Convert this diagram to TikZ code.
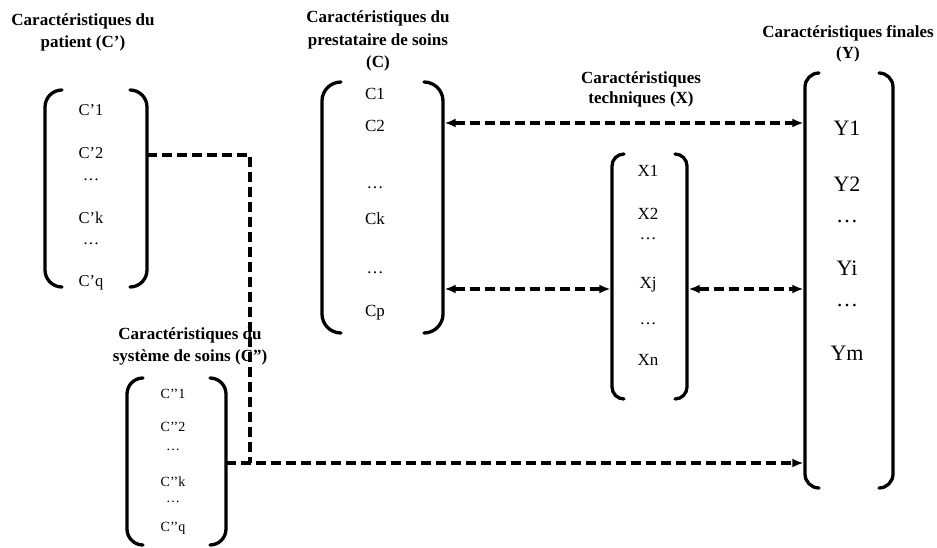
\documentclass[tikz,border=0pt]{standalone}
\usepackage{fontspec}
\setmainfont{Liberation Serif}
\usetikzlibrary{arrows.meta}

% Two facing round brackets around the box node #1, with tips of width #2
\newcommand\drawbrackets[2]{%
  \draw[brk,rounded corners=#2] ([xshift=#2]#1.north west) -- (#1.north west)
      -- (#1.south west) -- ([xshift=#2]#1.south west);
  \draw[brk,rounded corners=#2] ([xshift=-#2]#1.north east) -- (#1.north east)
      -- (#1.south east) -- ([xshift=-#2]#1.south east);}

\begin{document}
\begin{tikzpicture}[x=1pt,y=-1pt,
  box/.style={inner sep=0pt,outer sep=0pt,draw=none},
  brk/.style={line width=3.3pt,line cap=round},
  title/.style={anchor=base,inner sep=0pt,font=\fontsize{17}{22}\selectfont\bfseries},
  itm/.style={inner sep=0pt,text height=0.66em,text depth=0pt},
  dotitm/.style={inner sep=0pt,text height=0.2em,text depth=0pt},
  dl/.style={line width=3.2pt,dash pattern=on 10pt off 5pt},
  tip/.style={-{Latex[length=11pt,width=9pt]}},
  tips/.style={{Latex[length=11pt,width=9pt]}-{Latex[length=11pt,width=9pt]}}]

\useasboundingbox (0,0) rectangle (937,548);

% bracketed groups
\node[box,minimum width=102pt,minimum height=197pt] (P) at (96,188.5) {};
\node[box,minimum width=99pt,minimum height=167pt]  (S) at (176.5,461.5) {};
\node[box,minimum width=121pt,minimum height=251pt] (C) at (382.5,207.5) {};
\node[box,minimum width=75pt,minimum height=245pt]  (X) at (649.5,276.5) {};
\node[box,minimum width=88pt,minimum height=415pt]  (Y) at (849,280.5) {};

\drawbrackets{P}{17pt}
\drawbrackets{S}{16pt}
\drawbrackets{C}{19pt}
\drawbrackets{X}{12pt}
\drawbrackets{Y}{14pt}

% titles
\node[title] (tP1) at (83,26) {Caractéristiques du};
\node[title] (tP2) at (83,48) {patient (C’)};
\node[title] (tC1) at (378,23) {Caractéristiques du};
\node[title] (tC2) at (378,46) {prestataire de soins};
\node[title] (tC3) at (378,68) {(C)};
\node[title] (tX1) at (641,84) {Caractéristiques};
\node[title] (tX2) at (641,104) {techniques (X)};
\node[title] (tY1) at (848,38) {Caractéristiques finales};
\node[title] (tY2) at (848,59) {(Y)};
\node[title] (tS1) at (190,339) {Caractéristiques du};
\node[title] (tS2) at (190,361) {système de soins (C”)};

% patient items
\begin{scope}[every node/.append style={font=\fontsize{16.5}{18}\selectfont}]
\node[itm] (p1) at (91,112) {C’1};
\node[itm] (p2) at (91,155) {C’2};
\node[dotitm] (p3) at (91,180) {…};
\node[itm] (p4) at (91,220) {C’k};
\node[dotitm] (p5) at (91,243) {…};
\node[itm] (p6) at (91,283) {C’q};
\end{scope}

% care system items
\begin{scope}[every node/.append style={font=\fontsize{14}{16}\selectfont}]
\node[itm] (s1) at (173,395) {C’’1};
\node[itm] (s2) at (173,428) {C’’2};
\node[dotitm] (s3) at (173,449) {…};
\node[itm] (s4) at (173,483) {C’’k};
\node[dotitm] (s5) at (173,501) {…};
\node[itm] (s6) at (173,528) {C’’q};
\end{scope}

% provider items
\begin{scope}[every node/.append style={font=\fontsize{17}{19}\selectfont}]
\node[itm] (c1) at (375,96) {C1};
\node[itm] (c2) at (375,128) {C2};
\node[dotitm] (c3) at (375,188) {…};
\node[itm] (c4) at (375,221) {Ck};
\node[dotitm] (c5) at (375,272) {…};
\node[itm] (c6) at (375,313) {Cp};
\end{scope}

% technical items
\begin{scope}[every node/.append style={font=\fontsize{17}{19}\selectfont}]
\node[itm] (x1) at (648,173) {X1};
\node[itm] (x2) at (648,216) {X2};
\node[dotitm] (x3) at (648,239) {…};
\node[itm] (x4) at (648,285) {Xj};
\node[dotitm] (x5) at (648,323) {…};
\node[itm] (x6) at (648,362) {Xn};
\end{scope}

% final items
\begin{scope}[every node/.append style={font=\fontsize{22}{24}\selectfont}]
\node[itm] (y1) at (847,132) {Y1};
\node[itm] (y2) at (847,188) {Y2};
\node[dotitm] (y3) at (847,222) {…};
\node[itm] (y4) at (847,272) {Yi};
\node[dotitm] (y5) at (847,305) {…};
\node[itm] (y6) at (847,357) {Ym};
\end{scope}

% connector levels
\coordinate (r1) at (0,123);
\coordinate (r2) at (0,289);
\coordinate (r3) at (0,155);
\coordinate (r4) at (0,463);
\coordinate (k) at (250,463);

% connectors
\draw[dl] (P.east |- r3) -| (k);
\draw[dl,tip,shorten >=1.6pt] (S.east |- r4) -- (Y.west |- r4);
\draw[dl,tips,shorten >=1.6pt,shorten <=1.6pt] (C.east |- r1) -- (Y.west |- r1);
\draw[dl,tips,shorten >=1.6pt,shorten <=1.6pt] (C.east |- r2) -- (X.west |- r2);
\draw[dl,tips,shorten >=1.6pt,shorten <=1.6pt] (X.east |- r2) -- (Y.west |- r2);

\end{tikzpicture}
\end{document}
